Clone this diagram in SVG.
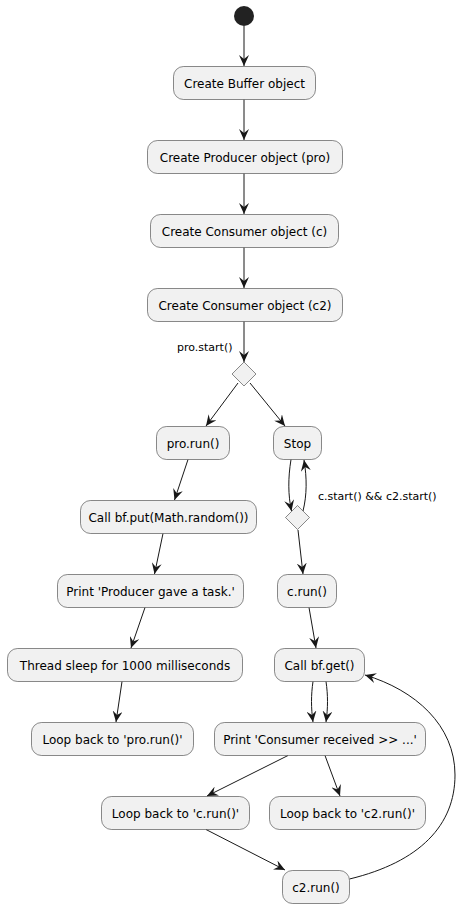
<svg xmlns="http://www.w3.org/2000/svg" width="467" height="908" viewBox="0 0 467 908">
<defs>
<style>
.n rect{fill:#F1F1F1;stroke:#181818;stroke-width:0.5}
.n polygon{fill:#F1F1F1;stroke:#181818;stroke-width:0.5}
.n text{font-family:"DejaVu Sans",sans-serif;font-size:12px;fill:#000;text-anchor:middle}
.lbl{font-family:"DejaVu Sans",sans-serif;font-size:11px;fill:#000}
#edges path{fill:none;stroke:#181818;stroke-width:1;marker-end:url(#ah)}
</style>
<marker id="ah" viewBox="0 0 12 10" refX="11" refY="5" markerWidth="12" markerHeight="10" markerUnits="userSpaceOnUse" orient="auto">
<path d="M0,0 L11,5 L0,10 L4,5 z" fill="#181818"/>
</marker>
</defs>
<rect width="467" height="908" fill="#FFFFFF"/>
<g id="edges">
<path d="M244,26 L244,66"/>
<path d="M244,99.5 L244,140"/>
<path d="M244,173.5 L244,214"/>
<path d="M244,247.5 L244,288"/>
<path d="M244,321.5 L244,362"/>
<path d="M238,383 L206,426"/>
<path d="M250,383 L285,426"/>
<path d="M188,459.5 L174.5,500"/>
<path d="M163,533.5 L154.5,574"/>
<path d="M145,607.5 L131,648"/>
<path d="M122,681.5 L116,722"/>
<path d="M291,459.5 C288,478 288,495 291.5,511"/>
<path d="M303,511 C307,495 307,478 304,460"/>
<path d="M298,530 L303,574"/>
<path d="M309,607.5 L316,648"/>
<path d="M313,681.5 C311,695 311,708 313,722"/>
<path d="M326,681.5 C328,695 328,708 326,722"/>
<path d="M288,755.5 L207,796"/>
<path d="M325,755.5 L340,796"/>
<path d="M206,829.5 L285,870"/>
<path d="M349.5,879 C420,862 455,825 455,775 C455,725 415,690 365,675"/>
</g>
<text class="lbl" x="177" y="351">pro.start()</text>
<text class="lbl" x="318" y="500">c.start() &amp;&amp; c2.start()</text>
<g id="start" class="n"><circle cx="244" cy="16" r="10" fill="#222222"/></g>
<g id="n1" class="n"><rect x="173.5" y="66.5" width="142" height="33" rx="10"/><text x="244.5" y="87.5">Create Buffer object</text></g>
<g id="n2" class="n"><rect x="147.5" y="140.5" width="195" height="33" rx="10"/><text x="245" y="161.5">Create Producer object (pro)</text></g>
<g id="n3" class="n"><rect x="150.5" y="214.5" width="188" height="33" rx="10"/><text x="244.5" y="235.5">Create Consumer object (c)</text></g>
<g id="n4" class="n"><rect x="147.5" y="288.5" width="195" height="33" rx="10"/><text x="245" y="309.5">Create Consumer object (c2)</text></g>
<g id="d1" class="n"><polygon points="244,362 256,374 244,386 232,374"/></g>
<g id="n5" class="n"><rect x="156.5" y="426.5" width="73" height="33" rx="10"/><text x="193" y="447.5">pro.run()</text></g>
<g id="n6" class="n"><rect x="273.5" y="426.5" width="48" height="33" rx="10"/><text x="297.5" y="447.5">Stop</text></g>
<g id="d2" class="n"><polygon points="297.5,505.5 309.5,517.5 297.5,529.5 285.5,517.5"/></g>
<g id="n7" class="n"><rect x="80.5" y="500.5" width="176" height="33" rx="10"/><text x="168.5" y="521.5">Call bf.put(Math.random())</text></g>
<g id="n8" class="n"><rect x="57.5" y="574.5" width="186" height="33" rx="10"/><text x="150.5" y="595.5">Print 'Producer gave a task.'</text></g>
<g id="n9" class="n"><rect x="7.5" y="648.5" width="235" height="33" rx="10"/><text x="125" y="669.5">Thread sleep for 1000 milliseconds</text></g>
<g id="n10" class="n"><rect x="31.5" y="722.5" width="162" height="33" rx="10"/><text x="112.5" y="743.5">Loop back to 'pro.run()'</text></g>
<g id="n11" class="n"><rect x="277.5" y="574.5" width="59" height="33" rx="10"/><text x="307" y="595.5">c.run()</text></g>
<g id="n12" class="n"><rect x="274.5" y="648.5" width="90" height="33" rx="10"/><text x="319.5" y="669.5">Call bf.get()</text></g>
<g id="n13" class="n"><rect x="214.5" y="722.5" width="211" height="33" rx="10"/><text x="320" y="743.5">Print 'Consumer received &gt;&gt; ...'</text></g>
<g id="n14" class="n"><rect x="101.5" y="796.5" width="148" height="33" rx="10"/><text x="175.5" y="817.5">Loop back to 'c.run()'</text></g>
<g id="n15" class="n"><rect x="269.5" y="796.5" width="156" height="33" rx="10"/><text x="347.5" y="817.5">Loop back to 'c2.run()'</text></g>
<g id="n16" class="n"><rect x="282.5" y="870.5" width="67" height="33" rx="10"/><text x="316" y="891.5">c2.run()</text></g>
</svg>
